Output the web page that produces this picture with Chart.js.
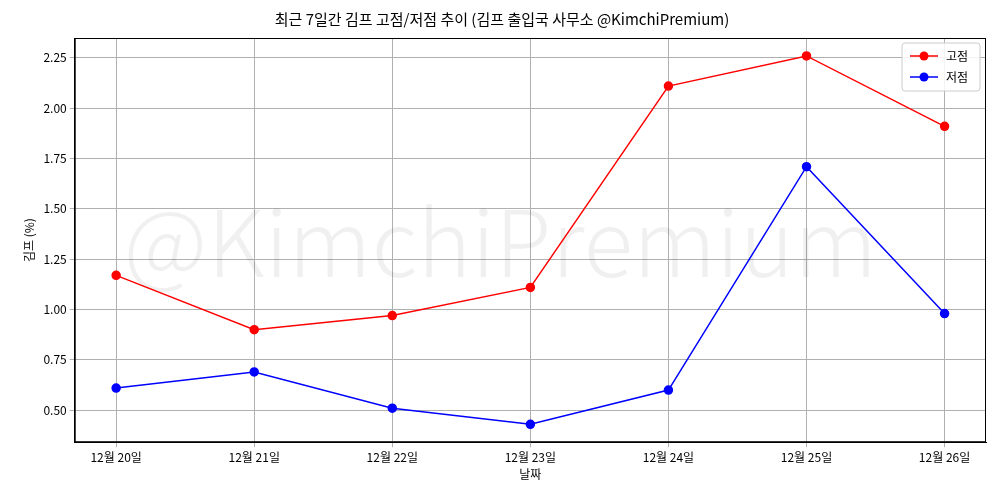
<!DOCTYPE html>
<html><head><meta charset="utf-8">
<script src="https://cdn.jsdelivr.net/npm/chart.js@4"></script>
<style>body{margin:0;background:#fff}#wrap{width:1000px;height:500px}</style>
</head><body><div id="wrap"><canvas id="c"></canvas></div>
<script>
var dates = ['12월 20일', '12월 21일', '12월 22일', '12월 23일', '12월 24일', '12월 25일', '12월 26일'];
var highs = [1.17, 0.90, 0.97, 1.11, 2.11, 2.26, 1.91];
var lows = [0.61, 0.69, 0.51, 0.43, 0.60, 1.71, 0.98];
var yTicks = [0.50, 0.75, 1.00, 1.25, 1.50, 1.75, 2.00, 2.25];

var font = '"Noto Sans CJK KR", "Noto Sans", sans-serif';
Chart.defaults.font.family = font;
Chart.defaults.color = '#222';

var watermark = {
    id: 'watermark',
    beforeDatasetsDraw: function(chart) {
        var a = chart.chartArea, ctx = chart.ctx;
        ctx.save();
        ctx.font = '300 92px ' + font;
        ctx.fillStyle = 'rgba(0,0,0,0.06)';
        ctx.textAlign = 'center';
        ctx.textBaseline = 'middle';
        ctx.fillText('@KimchiPremium', (a.left + a.right) / 2 - 30, (a.top + a.bottom) / 2 + 2);
        ctx.restore();
    }
};

// frame around the plot and a boxed legend in the upper right
var frameLegend = {
    id: 'frameLegend',
    afterDraw: function(chart) {
        var a = chart.chartArea, ctx = chart.ctx;
        ctx.save();
        ctx.strokeStyle = '#000';
        ctx.lineWidth = 1;
        ctx.strokeRect(a.left + 0.5, a.top + 0.5, a.right - a.left - 1, a.bottom - a.top - 1);
        var w = 78, h = 48, x = a.right - w - 6, y = a.top + 5;
        ctx.fillStyle = 'rgba(255,255,255,0.85)';
        ctx.strokeStyle = '#ccc';
        ctx.beginPath();
        ctx.roundRect(x, y, w, h, 3);
        ctx.fill();
        ctx.stroke();
        ctx.font = '12px ' + font;
        ctx.textBaseline = 'middle';
        chart.data.datasets.forEach(function(ds, i) {
            var cy = y + 13 + i * 21;
            ctx.strokeStyle = ds.borderColor;
            ctx.lineWidth = 1.5;
            ctx.beginPath();
            ctx.moveTo(x + 8, cy);
            ctx.lineTo(x + 36, cy);
            ctx.stroke();
            ctx.fillStyle = ds.backgroundColor;
            ctx.beginPath();
            ctx.arc(x + 22, cy, 4.5, 0, Math.PI * 2);
            ctx.fill();
            ctx.fillStyle = '#000';
            ctx.fillText(ds.label, x + 44, cy);
        });
        ctx.restore();
    }
};

function pts(arr) { return arr.map(function(v, i) { return {x: i, y: v}; }); }

new Chart(document.getElementById('c'), {
    type: 'line',
    plugins: [watermark, frameLegend],
    data: {
        datasets: [
            {label: '고점', data: pts(highs), borderColor: '#ff0000', backgroundColor: '#ff0000', borderWidth: 1.5, pointRadius: 4, pointHoverRadius: 4},
            {label: '저점', data: pts(lows), borderColor: '#0000ff', backgroundColor: '#0000ff', borderWidth: 1.5, pointRadius: 4, pointHoverRadius: 4}
        ]
    },
    options: {
        responsive: true,
        maintainAspectRatio: false,
        animation: false,
        layout: {padding: {left: 18, right: 14, top: 4, bottom: 18}},
        plugins: {
            title: {display: true, text: '최근 7일간 김프 고점/저점 추이 (김프 출입국 사무소 @KimchiPremium)', font: {size: 15, weight: 'normal'}, color: '#000', padding: {top: 6, bottom: 10}},
            legend: {display: false},
            tooltip: {enabled: false}
        },
        scales: {
            x: {
                type: 'linear', min: -0.3, max: 6.3,
                afterBuildTicks: function(s) { s.ticks = dates.map(function(d, i) { return {value: i}; }); },
                ticks: {callback: function(v) { return dates[v]; }, font: {size: 12}, color: '#000'},
                grid: {color: '#b0b0b0', tickLength: 5},
                border: {color: '#000'},
                title: {display: true, text: '날짜', font: {size: 12}, color: '#000', padding: 0}
            },
            y: {
                min: 0.341, max: 2.349,
                afterBuildTicks: function(s) { s.ticks = yTicks.map(function(v) { return {value: v}; }); },
                ticks: {callback: function(v) { return v.toFixed(2); }, font: {size: 12}, color: '#000'},
                grid: {color: '#b0b0b0', tickLength: 5},
                border: {color: '#000'},
                title: {display: true, text: '김프 (%)', font: {size: 12}, color: '#000'}
            }
        }
    }
});
</script></body></html>
